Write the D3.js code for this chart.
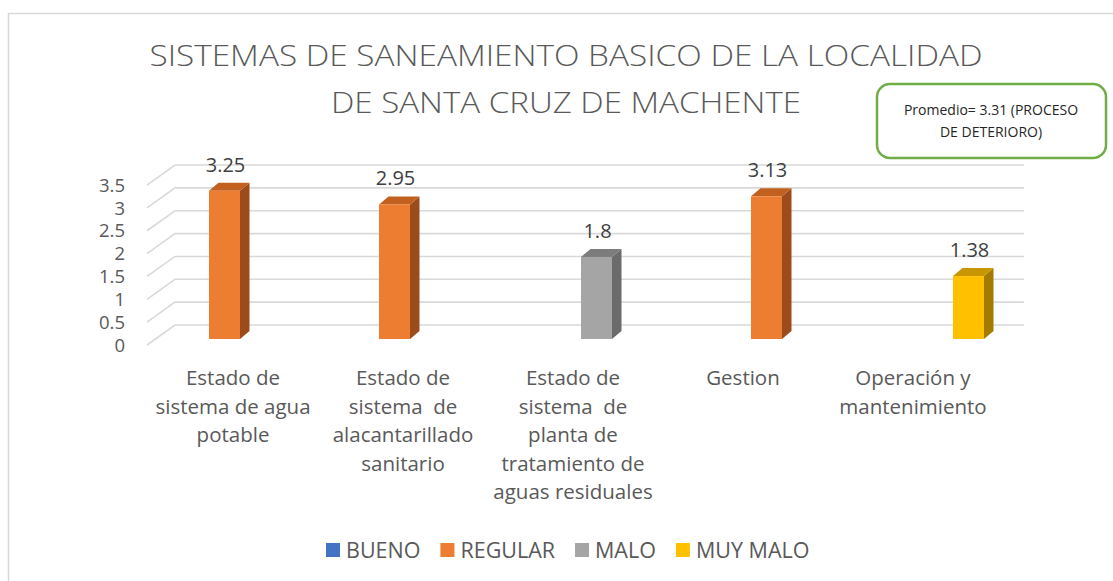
<!DOCTYPE html>
<html><head><meta charset="utf-8">
<script src="https://cdn.jsdelivr.net/npm/d3@7"></script>
<style>
html,body{margin:0;padding:0;background:#fff;}
svg{display:block;font-family:"Open Sans",sans-serif;}
</style></head>
<body>
<svg id="c" width="1113" height="581"></svg>
<script>
// ---- data ----
const titleLines = ["SISTEMAS DE SANEAMIENTO BASICO DE LA LOCALIDAD", "DE SANTA CRUZ DE MACHENTE"];
const categories = [
  ["Estado de", "sistema de agua", "potable"],
  ["Estado de", "sistema  de", "alacantarillado", "sanitario"],
  ["Estado de", "sistema  de", "planta de", "tratamiento de", "aguas residuales"],
  ["Gestion"],
  ["Operación y", "mantenimiento"]
];
const seriesNames = ["BUENO", "REGULAR", "MALO", "MUY MALO"];
const bueno   = [null, null, null, null, null];
const regular = [3.25, 2.95, null, 3.13, null];
const malo    = [null, null, 1.8, null, null];
const muyMalo = [null, null, null, null, 1.38];
// column of the source table in which each category's value sits (cluster slot)
const tableColumn = [1, 1, 2, 2, 3];
const yTicks = [0, 0.5, 1, 1.5, 2, 2.5, 3, 3.5];
const note = ["Promedio= 3.31 (PROCESO", "DE DETERIORO)"];

const seriesValues = [bueno, regular, malo, muyMalo];
const colors = {
  "BUENO":   {front:"#4472C4", top:"#35599A", side:"#2C4B82"},
  "REGULAR": {front:"#ED7D31", top:"#C2601F", side:"#9B4C1A"},
  "MALO":    {front:"#A5A5A5", top:"#7C7C7C", side:"#6B6B6B"},
  "MUY MALO":{front:"#FFC000", top:"#C79600", side:"#A37B00"}
};

const svg = d3.select("#c");
const catIdx = categories.map((c,i)=>i);

// chart border
svg.append("rect").attr("x",8.5).attr("y",13.5).attr("width",1200).attr("height",700)
  .attr("fill","none").attr("stroke","#d9d9d9").attr("stroke-width",1.5);

// title
svg.selectAll("text.title").data(titleLines).join("text").attr("class","title")
  .attr("x",566).attr("y",(d,i)=>66+i*47).attr("text-anchor","middle")
  .attr("font-size",29).attr("font-weight",300).attr("fill","#595959")
  .attr("textLength",(d,i)=> i===0 ? 833 : 470).attr("lengthAdjust","spacingAndGlyphs")
  .text(d=>d);

// scales
const depthX = 28, depthY = 20;
const yFront = d3.scaleLinear().domain([0,3.5]).range([345, 345-3.5*45.7]);
const yBack  = v => yFront(v) - depthY;
const yBar   = d3.scaleLinear().domain([0,3.5]).range([339, 339-3.5*45.6]);
const xFront0 = 147;
const xBackEnd = 1024;
const xCat = d3.scaleBand().domain(catIdx).range([148, 998]);
const xSlot = d3.scaleBand().domain([0,1,2,3]).range([-56, 72]);

// gridlines
const g = svg.append("g");
g.selectAll("path.grid").data(yTicks).join("path").attr("class","grid")
  .attr("d", v => `M${xFront0},${yFront(v)}L${xFront0+depthX},${yBack(v)}L${xBackEnd},${yBack(v)}`)
  .attr("fill","none").attr("stroke","#d9d9d9").attr("stroke-width",1.6);

// y labels
svg.selectAll("text.ytick").data(yTicks).join("text").attr("class","ytick")
  .attr("x",125).attr("y",v=>yFront(v)).attr("dy","0.36em").attr("text-anchor","end")
  .attr("font-size",18.5).attr("fill","#595959").text(v=>String(v));

// bars
const bars = [];
seriesValues.forEach((arr,si)=>arr.forEach((v,ci)=>{ if(v!=null) bars.push({s:seriesNames[si], c:ci, v}); }));
const bw = 31, dx = 9.5, dy = 8;
const bg = svg.append("g");
bars.forEach(b=>{
  const x = xCat(b.c) + xCat.bandwidth()/2 + xSlot(tableColumn[b.c]);
  const yt = yBar(b.v), yb = yBar(0);
  const col = colors[b.s];
  bg.append("path").attr("d",`M${x+bw},${yt}L${x+bw+dx},${yt-dy}L${x+bw+dx},${yb-dy}L${x+bw},${yb}Z`).attr("fill",col.side);
  bg.append("path").attr("d",`M${x},${yt}L${x+dx},${yt-dy}L${x+bw+dx},${yt-dy}L${x+bw},${yt}Z`).attr("fill",col.top);
  bg.append("rect").attr("x",x).attr("y",yt).attr("width",bw).attr("height",yb-yt).attr("fill",col.front);
  bg.append("text").attr("x",x+bw/2+1).attr("y",yt-dy-11).attr("text-anchor","middle")
    .attr("font-size",20).attr("fill","#404040").text(String(b.v));
});

// category labels
categories.forEach((lines,ci)=>{
  svg.append("text").attr("text-anchor","middle").attr("font-size",20.5).attr("fill","#595959")
    .selectAll("tspan").data(lines).join("tspan")
    .attr("x", xCat(ci)+xCat.bandwidth()/2).attr("y",(d,i)=>385+i*28.5)
    .style("white-space","pre").text(d=>d);
});

// legend
const lg = svg.append("g");
let lx = 326;
seriesNames.forEach(n=>{
  lg.append("rect").attr("x",lx).attr("y",543).attr("width",14).attr("height",14).attr("fill",colors[n].front);
  const t = lg.append("text").attr("x",lx+20).attr("y",558).attr("font-size",21.5).attr("fill","#595959").text(n);
  lx += 20 + t.node().getComputedTextLength() + 20;
});

// note box
svg.append("rect").attr("x",877).attr("y",84).attr("width",229).attr("height",74).attr("rx",13)
  .attr("fill","#fff").attr("stroke","#70AD47").attr("stroke-width",2.5);
svg.selectAll("text.note").data(note).join("text").attr("class","note")
  .attr("x",991).attr("y",(d,i)=>115+i*22).attr("text-anchor","middle")
  .attr("font-size",14).attr("fill","#262626").text(d=>d);
</script>
</body></html>
